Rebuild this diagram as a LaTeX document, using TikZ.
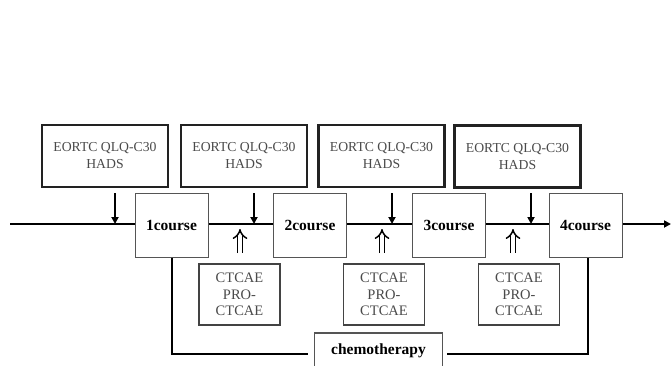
\documentclass[tikz,border=0pt]{standalone}
\usepackage{fontspec}
\setmainfont{Liberation Serif}
\usetikzlibrary{arrows.meta}
\definecolor{txtgray}{HTML}{4A4A4A}
\definecolor{boxdark}{HTML}{222222}
\definecolor{boxgray}{HTML}{555555}
\begin{document}
\begin{tikzpicture}[x=1pt,y=-1pt,
  qbox/.style={draw=boxdark,line width=2.2pt,minimum width=126pt,minimum height=62pt,align=center,text=txtgray,font=\fontsize{13.7}{17}\selectfont,inner sep=0pt},
  cbox/.style={draw=boxgray,line width=1pt,minimum width=73pt,minimum height=64pt,font=\fontsize{15.5}{17}\selectfont\bfseries,inner sep=0pt},
  tbox/.style={draw=boxdark!85,line width=1.8pt,minimum width=81pt,minimum height=61pt,align=center,text=txtgray,font=\fontsize{14.5}{16.5}\selectfont,inner sep=0pt},
  mainline/.style={line width=1.8pt,black},
  downarrow/.style={line width=1.8pt,-{Triangle[length=7pt,width=7pt]}},
  dblarrow/.style={double distance=3.5pt,line width=1.5pt,-{Implies[length=7pt]}}]
\useasboundingbox (0,0) rectangle (672,365);
% questionnaire boxes
\node[qbox] (q1) at (105,156) {EORTC QLQ-C30\\HADS};
\node[qbox] (q2) at (244,156) {EORTC QLQ-C30\\HADS};
\node[qbox] (q3) at (381.5,156) {EORTC QLQ-C30\\HADS};
\node[qbox] (q4) at (517.5,156.5) {EORTC QLQ-C30\\HADS};
% course boxes
\node[cbox] (c1) at (171.5,225) {1course};
\node[cbox] (c2) at (310,225) {2course};
\node[cbox] (c3) at (449,225) {3course};
\node[cbox] (c4) at (585.5,225.5) {4course};
% toxicity boxes
\node[tbox] (t1) at (239.5,294.5) {CTCAE\\PRO-\\CTCAE};
\node[tbox] (t2) at (384,294.5) {CTCAE\\PRO-\\CTCAE};
\node[tbox] (t3) at (519,294.5) {CTCAE\\PRO-\\CTCAE};
% chemotherapy box (cut at bottom)
\node[minimum width=127pt,minimum height=40pt,inner sep=0pt,anchor=north] (chemo) at (378.5,333) {};
\node[font=\fontsize{15.5}{17}\selectfont\bfseries] (chemotxt) at (378.5,351) {chemotherapy};
\draw[boxgray,line width=1.2pt] (chemo.south west) -- (chemo.north west) -- (chemo.north east) -- (chemo.south east);
% main timeline
\coordinate (start) at (10,224);
\coordinate (end) at (671,224);
\draw[mainline] (start) -- (c1.west |- start);
\draw[mainline] (c1.east |- start) -- (c2.west |- start);
\draw[mainline] (c2.east |- start) -- (c3.west |- start);
\draw[mainline] (c3.east |- start) -- (c4.west |- start);
\draw[mainline,-{Triangle[length=7pt,width=7pt]}] (c4.east |- start) -- (end);
% down arrows
\coordinate (d1) at (115,193); \coordinate (e1) at (115,224);
\coordinate (d2) at (254,193); \coordinate (e2) at (254,224);
\coordinate (d3) at (392,193); \coordinate (e3) at (392,224);
\coordinate (d4) at (531,193); \coordinate (e4) at (531,224);
\draw[downarrow] (d1) -- (e1);
\draw[downarrow] (d2) -- (e2);
\draw[downarrow] (d3) -- (e3);
\draw[downarrow] (d4) -- (e4);
% double arrows
\coordinate (u1) at (240,229); \coordinate (u2) at (382,229); \coordinate (u3) at (513,229);
\draw[dblarrow] (u1 |- 0,253) -- (u1);
\draw[dblarrow] (u2 |- 0,253) -- (u2);
\draw[dblarrow] (u3 |- 0,253) -- (u3);
% chemotherapy connectors
\coordinate (chl) at (172,354);
\coordinate (chr) at (588,354);
\coordinate (chlend) at (308,354);
\coordinate (chrstart) at (447,354);
\draw[line width=1.5pt] (c1.south -| chl) -- (chl) -- (chlend);
\draw[line width=1.5pt] (chrstart) -- (chr) -- (c4.south -| chr);
\end{tikzpicture}
\end{document}
